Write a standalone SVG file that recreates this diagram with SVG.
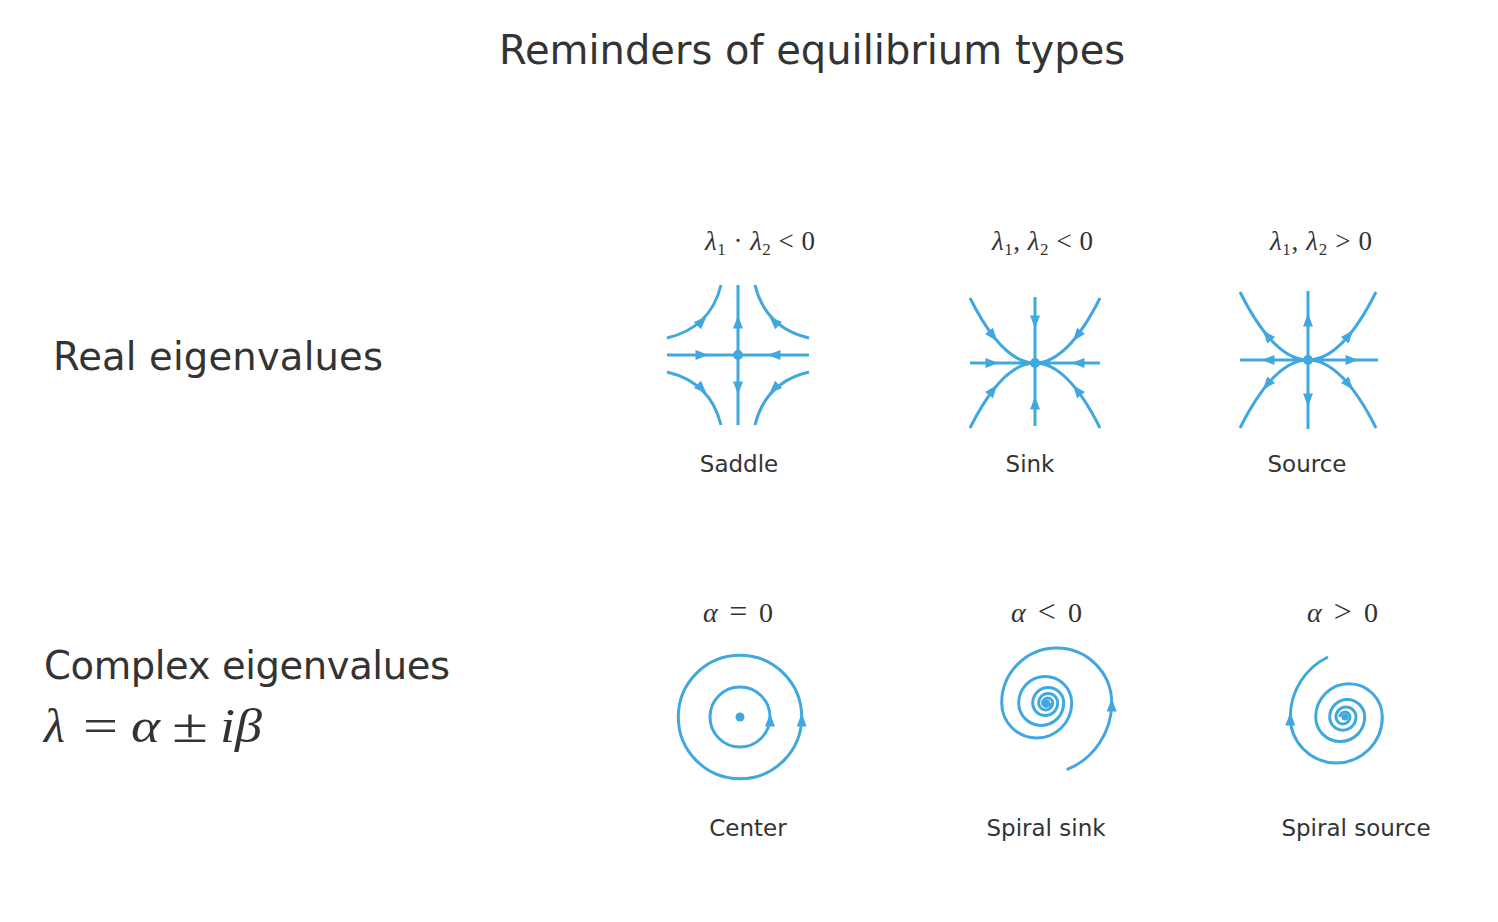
<svg xmlns="http://www.w3.org/2000/svg" width="1498" height="922" viewBox="0 0 1498 922">
<style>
.ln{fill:none;stroke:#40a8de;stroke-width:3}
.fl{fill:#40a8de}
.t{font-family:"DejaVu Sans",sans-serif;fill:#333}
.m{font-family:"Liberation Serif",serif;fill:#333}
.i{font-style:italic}
.lbl{font-size:23px;text-anchor:middle}
.ml{font-size:27px}
.al{font-size:28px}
.sub{font-size:17px}
.rel{font-size:32px}
</style>
<defs>
<path id="ah" class="fl" d="M6.5,0 L-6.5,-5 L-6.5,5 Z"/>
</defs>
<rect width="1498" height="922" fill="#ffffff"/>

<g id="title"><text class="t" x="812" y="64" font-size="40" text-anchor="middle">Reminders of equilibrium types</text></g>

<g id="row-real"><text class="t" x="53" y="370" font-size="38.5" textLength="330">Real eigenvalues</text></g>
<g id="row-complex">
<text class="t" x="44" y="679" font-size="38.5" textLength="406">Complex eigenvalues</text>
<text class="m i" x="44" y="742" font-size="48">λ</text>
<text class="m" x="83" y="742" font-size="48" textLength="35" lengthAdjust="spacingAndGlyphs">=</text>
<text class="m i" x="131" y="742" font-size="48" textLength="29" lengthAdjust="spacingAndGlyphs">α</text>
<text class="m" x="172" y="742" font-size="48" textLength="36" lengthAdjust="spacingAndGlyphs">±</text>
<text class="m i" x="220" y="742" font-size="48" textLength="42" lengthAdjust="spacingAndGlyphs">iβ</text>
</g>

<g id="saddle">
<text class="m ml" x="705" y="250" textLength="110"><tspan class="i">λ</tspan><tspan class="sub" dy="5">1</tspan><tspan dy="-5"> · </tspan><tspan class="i">λ</tspan><tspan class="sub" dy="5">2</tspan><tspan dy="-5"> &lt; 0</tspan></text>
<path class="ln" d="M738,285 V425 M667,355 H809 M721,285 Q710.6,327.7 667,338 M755,285 Q765.4,327.7 809,338 M721,425 Q710.6,382.3 667,372 M755,425 Q765.4,382.3 809,372"/>
<circle class="fl" cx="738" cy="355" r="5"/>
<use href="#ah" transform="translate(738,322) rotate(-90)"/>
<use href="#ah" transform="translate(738,388) rotate(90)"/>
<use href="#ah" transform="translate(702,355)"/>
<use href="#ah" transform="translate(774,355) rotate(180)"/>
<use href="#ah" transform="translate(702,321) rotate(-45)"/>
<use href="#ah" transform="translate(774,321) rotate(-135)"/>
<use href="#ah" transform="translate(702,389) rotate(45)"/>
<use href="#ah" transform="translate(774,389) rotate(135)"/>
<text class="t lbl" x="739" y="472">Saddle</text>
</g>

<g id="sink">
<text class="m ml" x="992" y="250" textLength="101"><tspan class="i">λ</tspan><tspan class="sub" dy="5">1</tspan><tspan dy="-5">, </tspan><tspan class="i">λ</tspan><tspan class="sub" dy="5">2</tspan><tspan dy="-5"> &lt; 0</tspan></text>
<path class="ln" d="M1035,297 V426 M970,363 H1100 M970,298 Q1002.5,363 1035,363 Q1067.5,363 1100,298 M970,428 Q1002.5,363 1035,363 Q1067.5,363 1100,428"/>
<circle class="fl" cx="1035" cy="363" r="5"/>
<use href="#ah" transform="translate(1035,322) rotate(90)"/>
<use href="#ah" transform="translate(1035,403) rotate(-90)"/>
<use href="#ah" transform="translate(992,363)"/>
<use href="#ah" transform="translate(1078,363) rotate(180)"/>
<use href="#ah" transform="translate(993,336) rotate(52)"/>
<use href="#ah" transform="translate(1077,336) rotate(128)"/>
<use href="#ah" transform="translate(993,390) rotate(-52)"/>
<use href="#ah" transform="translate(1077,390) rotate(-128)"/>
<text class="t lbl" x="1030" y="472">Sink</text>
</g>

<g id="source">
<text class="m ml" x="1270" y="250" textLength="102"><tspan class="i">λ</tspan><tspan class="sub" dy="5">1</tspan><tspan dy="-5">, </tspan><tspan class="i">λ</tspan><tspan class="sub" dy="5">2</tspan><tspan dy="-5"> &gt; 0</tspan></text>
<path class="ln" d="M1308,291 V429 M1240,360 H1378 M1240,292 Q1274,360 1308,360 Q1342,360 1376,292 M1240,428 Q1274,360 1308,360 Q1342,360 1376,428"/>
<circle class="fl" cx="1308" cy="360" r="5"/>
<use href="#ah" transform="translate(1308,320) rotate(-90)"/>
<use href="#ah" transform="translate(1308,400) rotate(90)"/>
<use href="#ah" transform="translate(1268,360) rotate(180)"/>
<use href="#ah" transform="translate(1352,360)"/>
<use href="#ah" transform="translate(1267,335.3) rotate(-129.6)"/>
<use href="#ah" transform="translate(1349,335.3) rotate(-50.4)"/>
<use href="#ah" transform="translate(1267,384.7) rotate(129.6)"/>
<use href="#ah" transform="translate(1349,384.7) rotate(50.4)"/>
<text class="t lbl" x="1307" y="472">Source</text>
</g>

<g id="center">
<text class="m al" x="703" y="622" textLength="70"><tspan class="i">α</tspan><tspan class="rel"> = </tspan>0</text>
<circle class="ln" cx="740" cy="717" r="61.7"/>
<circle class="ln" cx="740" cy="717" r="30"/>
<circle class="fl" cx="740" cy="717" r="4.5"/>
<use href="#ah" transform="translate(770,720) rotate(-90)"/>
<use href="#ah" transform="translate(801.7,720) rotate(-90)"/>
<text class="t lbl" x="748" y="836">Center</text>
</g>

<g id="spiral-sink">
<text class="m al" x="1011" y="622" textLength="71"><tspan class="i">α</tspan><tspan class="rel"> &lt; </tspan>0</text>
<path class="ln" d="M1066.7,769.7 A71.9,71.9 0 0 0 1111.7,703 A55,55 0 0 0 1001.7,703 A35,35 0 0 0 1071.7,703 A26.5,26.5 0 0 0 1018.7,703 A22.5,22.5 0 0 0 1063.7,703 A15.5,15.5 0 0 0 1032.7,703 A12.5,12.5 0 0 0 1057.7,703 A9.5,9.5 0 0 0 1038.7,703 A7,7 0 0 0 1052.7,703 A5,5 0 0 0 1042.7,703 A3.5,3.5 0 0 0 1049.7,703"/>
<circle class="fl" cx="1046.5" cy="703" r="3.5"/>
<use href="#ah" transform="translate(1111.7,705) rotate(-90)"/>
<text class="t lbl" x="1046" y="836">Spiral sink</text>
</g>

<g id="spiral-source">
<text class="m al" x="1307" y="622" textLength="71"><tspan class="i">α</tspan><tspan class="rel"> &gt; </tspan>0</text>
<path class="ln" d="M1340,717 A5,5 0 0 1 1350,717 A7,7 0 0 1 1336,717 A10,10 0 0 1 1356,717 A13.15,13.15 0 0 1 1329.7,717 A17.5,17.5 0 0 1 1364.7,717 A24.5,24.5 0 0 1 1315.7,717 A33.3,33.3 0 0 1 1382.3,717 A46,46 0 0 1 1290.3,717 A66.6,66.6 0 0 1 1328,657"/>
<circle class="fl" cx="1345" cy="717" r="3.5"/>
<use href="#ah" transform="translate(1290.3,719) rotate(-90)"/>
<text class="t lbl" x="1356" y="836">Spiral source</text>
</g>

<g id="connectors"></g>
</svg>
